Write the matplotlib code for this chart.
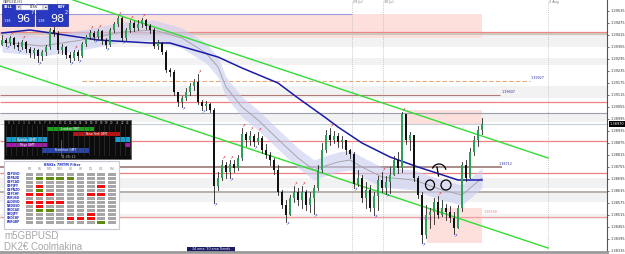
import matplotlib
matplotlib.use("Agg")
import matplotlib.pyplot as plt
import numpy as np
from matplotlib.patches import Rectangle, Ellipse, Arc

W, H = 625, 254

# ---- price data (H1 candles, GBPUSD) ----
open0 = 1.39365
close = [1.39390, 1.39375, 1.39400, 1.39365, 1.39355, 1.39380, 1.39345, 1.39325, 1.39340, 1.39310,
         1.39330, 1.39355, 1.39440, 1.39425, 1.39340, 1.39355, 1.39315, 1.39300, 1.39330, 1.39310,
         1.39370, 1.39405, 1.39425, 1.39405, 1.39435, 1.39390, 1.39365, 1.39440, 1.39470, 1.39500,
         1.39400, 1.39440, 1.39475, 1.39450, 1.39470, 1.39490, 1.39460, 1.39440, 1.39360, 1.39375,
         1.39330, 1.39240, 1.39230, 1.39130, 1.39080, 1.39100, 1.39130, 1.39160, 1.39180, 1.39080,
         1.39060, 1.39070, 1.39040, 1.38660, 1.38700, 1.38765, 1.38730, 1.38770, 1.38750, 1.38800,
         1.38920, 1.38890, 1.38910, 1.38880, 1.38900, 1.38840, 1.38815, 1.38790, 1.38740, 1.38630,
         1.38565, 1.38515, 1.38600, 1.38630, 1.38590, 1.38630, 1.38565, 1.38600, 1.38650, 1.38740,
         1.38840, 1.38915, 1.38890, 1.38910, 1.38880, 1.38890, 1.38840, 1.38820, 1.38670, 1.38700,
         1.38600, 1.38640, 1.38550, 1.38610, 1.38690, 1.38650, 1.38680, 1.38715, 1.38790, 1.38750,
         1.39020, 1.38890, 1.38915, 1.38700, 1.38615, 1.38415, 1.38515, 1.38530, 1.38580, 1.38515,
         1.38550, 1.38530, 1.38500, 1.38450, 1.38550, 1.38765, 1.38700, 1.38830, 1.38890, 1.38940,
         1.38970]
high = [1.39415, 1.39400, 1.39410, 1.39405, 1.39380, 1.39390, 1.39385, 1.39355, 1.39350, 1.39345,
        1.39340, 1.39365, 1.39450, 1.39455, 1.39435, 1.39370, 1.39360, 1.39330, 1.39340, 1.39340,
        1.39380, 1.39415, 1.39440, 1.39435, 1.39445, 1.39440, 1.39400, 1.39450, 1.39480, 1.39510,
        1.39505, 1.39450, 1.39490, 1.39485, 1.39490, 1.39500, 1.39495, 1.39470, 1.39450, 1.39390,
        1.39380, 1.39340, 1.39250, 1.39240, 1.39115, 1.39110, 1.39150, 1.39175, 1.39195, 1.39220,
        1.39090, 1.39085, 1.39075, 1.39050, 1.38730, 1.38790, 1.38780, 1.38790, 1.38790, 1.38815,
        1.38950, 1.38930, 1.38935, 1.38920, 1.38930, 1.38910, 1.38870, 1.38830, 1.38800, 1.38765,
        1.38640, 1.38590, 1.38615, 1.38660, 1.38650, 1.38660, 1.38640, 1.38630, 1.38665, 1.38765,
        1.38875, 1.38940, 1.38950, 1.38935, 1.38925, 1.38910, 1.38890, 1.38845, 1.38830, 1.38740,
        1.38715, 1.38680, 1.38665, 1.38630, 1.38710, 1.38730, 1.38710, 1.38755, 1.38810, 1.38830,
        1.39030, 1.39000, 1.38930, 1.38900, 1.38710, 1.38630, 1.38565, 1.38550, 1.38600, 1.38610,
        1.38590, 1.38570, 1.38560, 1.38530, 1.38565, 1.38780, 1.38790, 1.38850, 1.38910, 1.38960,
        1.39000]
low = [1.39370, 1.39360, 1.39365, 1.39350, 1.39340, 1.39345, 1.39330, 1.39305, 1.39300, 1.39280,
       1.39290, 1.39315, 1.39345, 1.39410, 1.39325, 1.39320, 1.39300, 1.39280, 1.39290, 1.39290,
       1.39305, 1.39360, 1.39395, 1.39390, 1.39395, 1.39370, 1.39350, 1.39360, 1.39430, 1.39460,
       1.39385, 1.39390, 1.39430, 1.39435, 1.39440, 1.39455, 1.39445, 1.39425, 1.39350, 1.39345,
       1.39320, 1.39230, 1.39210, 1.39115, 1.39060, 1.39055, 1.39090, 1.39115, 1.39140, 1.39070,
       1.39040, 1.39040, 1.39030, 1.38575, 1.38640, 1.38690, 1.38700, 1.38700, 1.38730, 1.38740,
       1.38790, 1.38860, 1.38865, 1.38860, 1.38870, 1.38825, 1.38800, 1.38765, 1.38720, 1.38615,
       1.38550, 1.38480, 1.38540, 1.38580, 1.38565, 1.38550, 1.38540, 1.38530, 1.38520, 1.38640,
       1.38730, 1.38830, 1.38865, 1.38875, 1.38855, 1.38850, 1.38820, 1.38800, 1.38650, 1.38660,
       1.38580, 1.38550, 1.38535, 1.38515, 1.38540, 1.38630, 1.38620, 1.38625, 1.38715, 1.38725,
       1.38730, 1.38870, 1.38840, 1.38685, 1.38600, 1.38375, 1.38400, 1.38450, 1.38470, 1.38500,
       1.38510, 1.38490, 1.38480, 1.38420, 1.38500, 1.38535, 1.38685, 1.38700, 1.38815, 1.38860,
       1.38920]

# moving averages (control points: bar index, price)
ema90_x = [0, 7, 14, 24, 37, 42, 54, 60, 69, 74, 81, 84, 90, 97, 104, 114, 120]
ema90_y = [1.39425, 1.39440, 1.39420, 1.39390, 1.39375, 1.39375, 1.39305, 1.39250, 1.39175,
           1.39100, 1.39000, 1.38955, 1.38875, 1.38805, 1.38755, 1.38690, 1.38690]
ema34_x = [0, 10, 20, 30, 38, 45, 51, 54, 56, 60, 64, 70, 74, 78, 80, 84, 87, 90, 95, 103, 110, 115, 120]
ema34_y = [1.39380, 1.39360, 1.39390, 1.39430, 1.39440, 1.39400, 1.39325, 1.39255, 1.39155, 1.39055,
           1.38990, 1.38875, 1.38800, 1.38740, 1.38755, 1.38780, 1.38790, 1.38755, 1.38705, 1.38690,
           1.38640, 1.38615, 1.38700]
band_half = 0.0005

# trend channel (bar, price)
chan_up = ([17.75, 136.5], [1.39590, 1.38800])
chan_dn = ([-0.5, 136.5], [1.39260, 1.38350])

# horizontal levels: (price, colour, width, style, x_from, x_to)
levels = [
    (1.39520, "#9a9ae0", 0.8, "-", -0.5, 87.5),
    (1.39430, "#f08080", 0.9, "-", -0.5, 152),
    (1.39418, "#cfc6bd", 1.6, "-", -0.5, 152),
    (1.39185, "#e8a878", 0.8, (0, (4, 2)), 20, 132),
    (1.39115, "#b27a78", 0.8, "-", -0.5, 124.5),
    (1.39080, "#f08080", 0.9, "-", -0.5, 152),
    (1.39025, "#9aa0ab", 0.8, "-", -0.5, 152),
    (1.38970, "#c4ccd6", 0.8, "-", -0.5, 152),
    (1.38885, "#f08080", 0.9, "-", -0.5, 152),
    (1.38755, "#a88c88", 1.4, "-", -0.5, 125),
    (1.38725, "#f08080", 0.9, "-", -0.5, 152),
    (1.38630, "#b8b0aa", 1.4, "-", -0.5, 152),
    (1.38505, "#f4a0a0", 0.9, "-", -0.5, 152),
]
grey_zones = [(1.39355, 1.39415), (1.39265, 1.39300), (1.39100, 1.39160), (1.38980, 1.39025),
              (1.38650, 1.38700), (1.38580, 1.38625), (1.38495, 1.38520)]
pink_zones = [(-0.5, 120.0, 1.39400, 1.39520), (100.75, 120.0, 1.38965, 1.39040),
              (106.25, 120.0, 1.38375, 1.38550)]
vlines_x = [13.75, 87.5, 95.25, 136.5]

price_ticks = [1.39535 - 0.0006 * k for k in range(21)]

# dashboard tables
filter_cols = ["M1", "M5", "M15", "M30", "H1", "H4", "D1", "W1", "MN"]
filter_rows = ["GBPUSD", "GBPAUD", "GBPCAD", "GBPJPY", "GBPNZD", "GBPCHF", "EURUSD",
               "AUDUSD", "NZDUSD", "USDCAD", "USDJPY", "USDCHF", "EURGBP"]
filter_cells = [".........", ".gggg....", ".........", ".r.....r.", ".g.......", "rrr...rr.",
                ".........", "rrrr.....", ".r.......", ".gg......", "......r..", "....rrr..",
                ".......g."]
sessions = [("London GMT", [(8, 17)], "#1e9e1e", 0),
            ("New York GMT", [(13, 22)], "#b81414", 1),
            ("Sydney GMT", [(0, 8), (21, 24)], "#1e9bc8", 2),
            ("Tokyo GMT", [(0, 8), (23, 24)], "#a21ea8", 3),
            ("Frankfurt GMT", [(7, 16)], "#2a44a8", 4)]

# ---- figure ----
fig = plt.figure(figsize=(W / 100, H / 100), dpi=100)
fig.patch.set_facecolor("white")
ax = fig.add_axes([0, 0, 607 / W, 1])
ax.set_xlim(-0.5, 151.25)
ax.set_ylim(1.38320, 1.39590)
ax.set_facecolor("white")

for lo, hi in grey_zones:
    ax.axhspan(lo, hi, color="#f2f2f2", lw=0, zorder=0)
for x0, x1, y0, y1 in pink_zones:
    ax.add_patch(Rectangle((x0, y0), x1 - x0, y1 - y0, color="#fde0dc", lw=0, zorder=0.5))
for vx in vlines_x:
    ax.axvline(vx, color="#b8b8b8", lw=0.6, ls=(0, (1, 1.5)), zorder=1)
for p, c, lw, ls, x0, x1 in levels:
    ax.plot([x0, x1], [p, p], color=c, lw=lw, ls=ls, zorder=1.2, solid_capstyle="butt")

e34 = np.array(ema34_y)
ax.fill_between(ema34_x, e34 - band_half, e34 + band_half, color="#c9cdf0", alpha=0.6, lw=0, zorder=1.5)
ax.plot(ema34_x, ema34_y, color="#a8a4a8", lw=0.7, zorder=1.6)
ax.plot(ema90_x, ema90_y, color="#1a1aa8", lw=1.1, zorder=3)
ax.plot(*chan_up, color="#33dd33", lw=1.0, zorder=3)
ax.plot(*chan_dn, color="#33dd33", lw=1.0, zorder=3)

opens = [open0] + close[:-1]
for i, (o, c, h, l) in enumerate(zip(opens, close, high, low)):
    h = max(h, o, c)
    l = min(l, o, c)
    up = c >= o
    ax.plot([i, i], [l, h], color="#222222", lw=0.6, zorder=4)
    body = max(abs(c - o), 0.00004)
    ax.add_patch(Rectangle((i - 0.36, min(o, c)), 0.72, body,
                           facecolor="#2e9e58" if up else "#111111", edgecolor="none", zorder=5))

# fractal arrows
for i in range(1, len(close) - 1):
    if high[i] >= high[i - 1] and high[i] >= high[i + 1]:
        ax.text(i + 0.4, high[i] + 0.00012, "\u2197", color="#e02020", fontsize=3.2,
                ha="center", va="center", zorder=6)
    if low[i] <= low[i - 1] and low[i] <= low[i + 1]:
        ax.text(i + 0.4, low[i] - 0.00012, "\u2197", color="#2040e0", fontsize=3.2,
                ha="center", va="center", zorder=6)

# right price scale
ax.yaxis.tick_right()
ax.set_yticks(price_ticks)
ax.set_yticklabels([f"{t:.5f}" for t in price_ticks])
ax.tick_params(axis="y", labelsize=2.5, length=1.5, width=0.5, pad=1.0, colors="#333333")
ax.set_xticks([])
for s in ["top", "left", "bottom"]:
    ax.spines[s].set_visible(False)
ax.spines["right"].set_color("#555555")
ax.spines["right"].set_linewidth(0.8)
ax.text(1.004, close[-1], f"{close[-1]:.5f}", transform=ax.get_yaxis_transform(),
        fontsize=2.5, color="white", va="center", ha="left",
        bbox=dict(boxstyle="square,pad=0.15", fc="black", ec="none"), zorder=10, clip_on=False)

# level tags
ax.text(132.2, 1.39190, "1.39927", fontsize=2.4, color="#3030a0", va="bottom")
ax.text(124.8, 1.39120, "1.39607", fontsize=2.4, color="#3030a0", va="bottom")
ax.text(124.2, 1.38760, "1.38712", fontsize=2.4, color="#3030a0", va="bottom")
ax.text(120.5, 1.38520, "1.38568", fontsize=2.4, color="#f08080", va="bottom")
ax.text(104.2, 1.38485, "1.38486", fontsize=2.4, color="#e060e0", va="bottom")

# ---- overlay in pixel coordinates ----
ov = fig.add_axes([0, 0, 1, 1])
ov.set_xlim(0, W)
ov.set_ylim(H, 0)
ov.axis("off")
ov.patch.set_alpha(0)

ov.plot([0, 607], [251.5, 251.5], color="#9a9a9a", lw=2)
for x, lab in [(352, "29 Jul"), (383, "30 Jul"), (548, "2 Aug")]:
    ov.text(x + 1, 2.5, lab, fontsize=2.4, color="#777777", va="center")

# trading panel
ov.text(3, 1.8, "GBPUSD,H1", fontsize=2.4, color="#333333", va="center")
for x0, side, big, sup in [(2, "SELL", "96", "7"), (36, "BUY", "98", "2")]:
    ov.add_patch(Rectangle((x0, 4), 32, 22, facecolor="#2838c0", edgecolor="#1a2490", lw=0.5))
    ov.text(x0 + 2 if side == "SELL" else x0 + 22, 7.5, side, fontsize=2.4, color="white",
            va="center", fontweight="bold")
    ov.text(x0 + 2, 20.5, "1.38", fontsize=2.4, color="white", va="center")
    ov.text(x0 + 14.5, 18.5, big, fontsize=8, color="white", va="center")
    ov.text(x0 + 29, 13, sup, fontsize=3.6, color="white", va="center")
ov.add_patch(Rectangle((16, 5), 5, 5, facecolor="#e8e8ee", edgecolor="#8888aa", lw=0.3))
ov.add_patch(Rectangle((21, 5), 22, 5, facecolor="white", edgecolor="#8888aa", lw=0.3))
ov.add_patch(Rectangle((43, 5), 5, 5, facecolor="#e8e8ee", edgecolor="#8888aa", lw=0.3))
ov.text(18.5, 7.5, "\u25be", fontsize=2.5, ha="center", va="center")
ov.text(45.5, 7.5, "\u25b4", fontsize=2.5, ha="center", va="center")
ov.text(34, 7.5, "0.55", fontsize=2.6, ha="center", va="center")

# session panel
px0, px1, py0, py1 = 4, 131, 120, 159
ov.add_patch(Rectangle((px0, py0), px1 - px0, py1 - py0, facecolor="#0c0c0c", edgecolor="#555555", lw=0.5))
hx = (130 - 6) / 24
for k in range(25):
    ov.plot([6 + k * hx] * 2, [125, 155], color="#3a3a3a", lw=0.4)
for k in range(24):
    ov.text(6 + (k + 0.5) * hx, 122.5, str(k), fontsize=2.0, color="#bbbbbb", ha="center", va="center")
for name, spans, col, row in sessions:
    yy = 126.5 + row * 5.4
    for a, b in spans:
        ov.add_patch(Rectangle((6 + a * hx, yy), (b - a) * hx, 4.4, facecolor=col, edgecolor="none"))
    a, b = spans[0]
    ov.text(6 + (a + b) / 2 * hx, yy + 2.3, name, fontsize=2.2, color="white", ha="center", va="center")
ov.plot([61, 61], [140, 155], color="#ff2020", lw=0.6)
ov.text(68, 157, "11:05:12", fontsize=2.5, color="#bbbbbb", ha="center", va="center")

# filter table
ov.add_patch(Rectangle((4, 161), 115, 68, facecolor="white", edgecolor="#c8c8d8", lw=0.8))
ov.text(62, 164.6, "BSKfx 7MTM Filter", fontsize=2.5, color="#2030c0", ha="center", va="center",
        fontweight="bold")
col_x = [29.5, 39.5, 50, 60, 70.5, 80.5, 91, 101, 112]
for cx, name in zip(col_x, filter_cols):
    ov.text(cx, 169.3, name, fontsize=2.1, color="#888888", ha="center", va="center")
cell_col = {".": "#a6a6a6", "g": "#5e8c10", "r": "#f01010"}
for r, (name, cells) in enumerate(zip(filter_rows, filter_cells)):
    yy = 172.5 + r * 4.0
    ov.text(6.5, yy + 1.6, name, fontsize=2.1, color="#2030c0", va="center", fontweight="bold")
    for cx, ch in zip(col_x, cells):
        ov.add_patch(Rectangle((cx - 3.6, yy), 7.2, 3.2, facecolor=cell_col[ch], edgecolor="none"))

# watermark / labels
ov.text(4, 236, "m5GBPUSD", fontsize=7, color="#a8a8a8", va="center", family="Liberation Sans")
ov.text(4, 247, "DK2\u20ac Coolmakina", fontsize=7, color="#a8a8a8", va="center", family="Liberation Sans")
ov.add_patch(Rectangle((187, 246.5), 48, 5.5, facecolor="#1c1c66", edgecolor="none"))
ov.text(211, 249.2, "34 ema, 90 ema Trends", fontsize=2.3, color="white", ha="center", va="center")

# hand-drawn marks
ov.add_patch(Ellipse((430, 185), 9, 10, fill=False, ec="black", lw=0.9))
ov.add_patch(Ellipse((446, 185), 10, 10, fill=False, ec="black", lw=0.9))
ov.add_patch(Arc((439, 171), 14, 14, theta1=200, theta2=350, ec="black", lw=0.9))
ov.plot([437, 438.5], [167, 176], color="black", lw=0.9)

fig.savefig("out.png", dpi=100)
